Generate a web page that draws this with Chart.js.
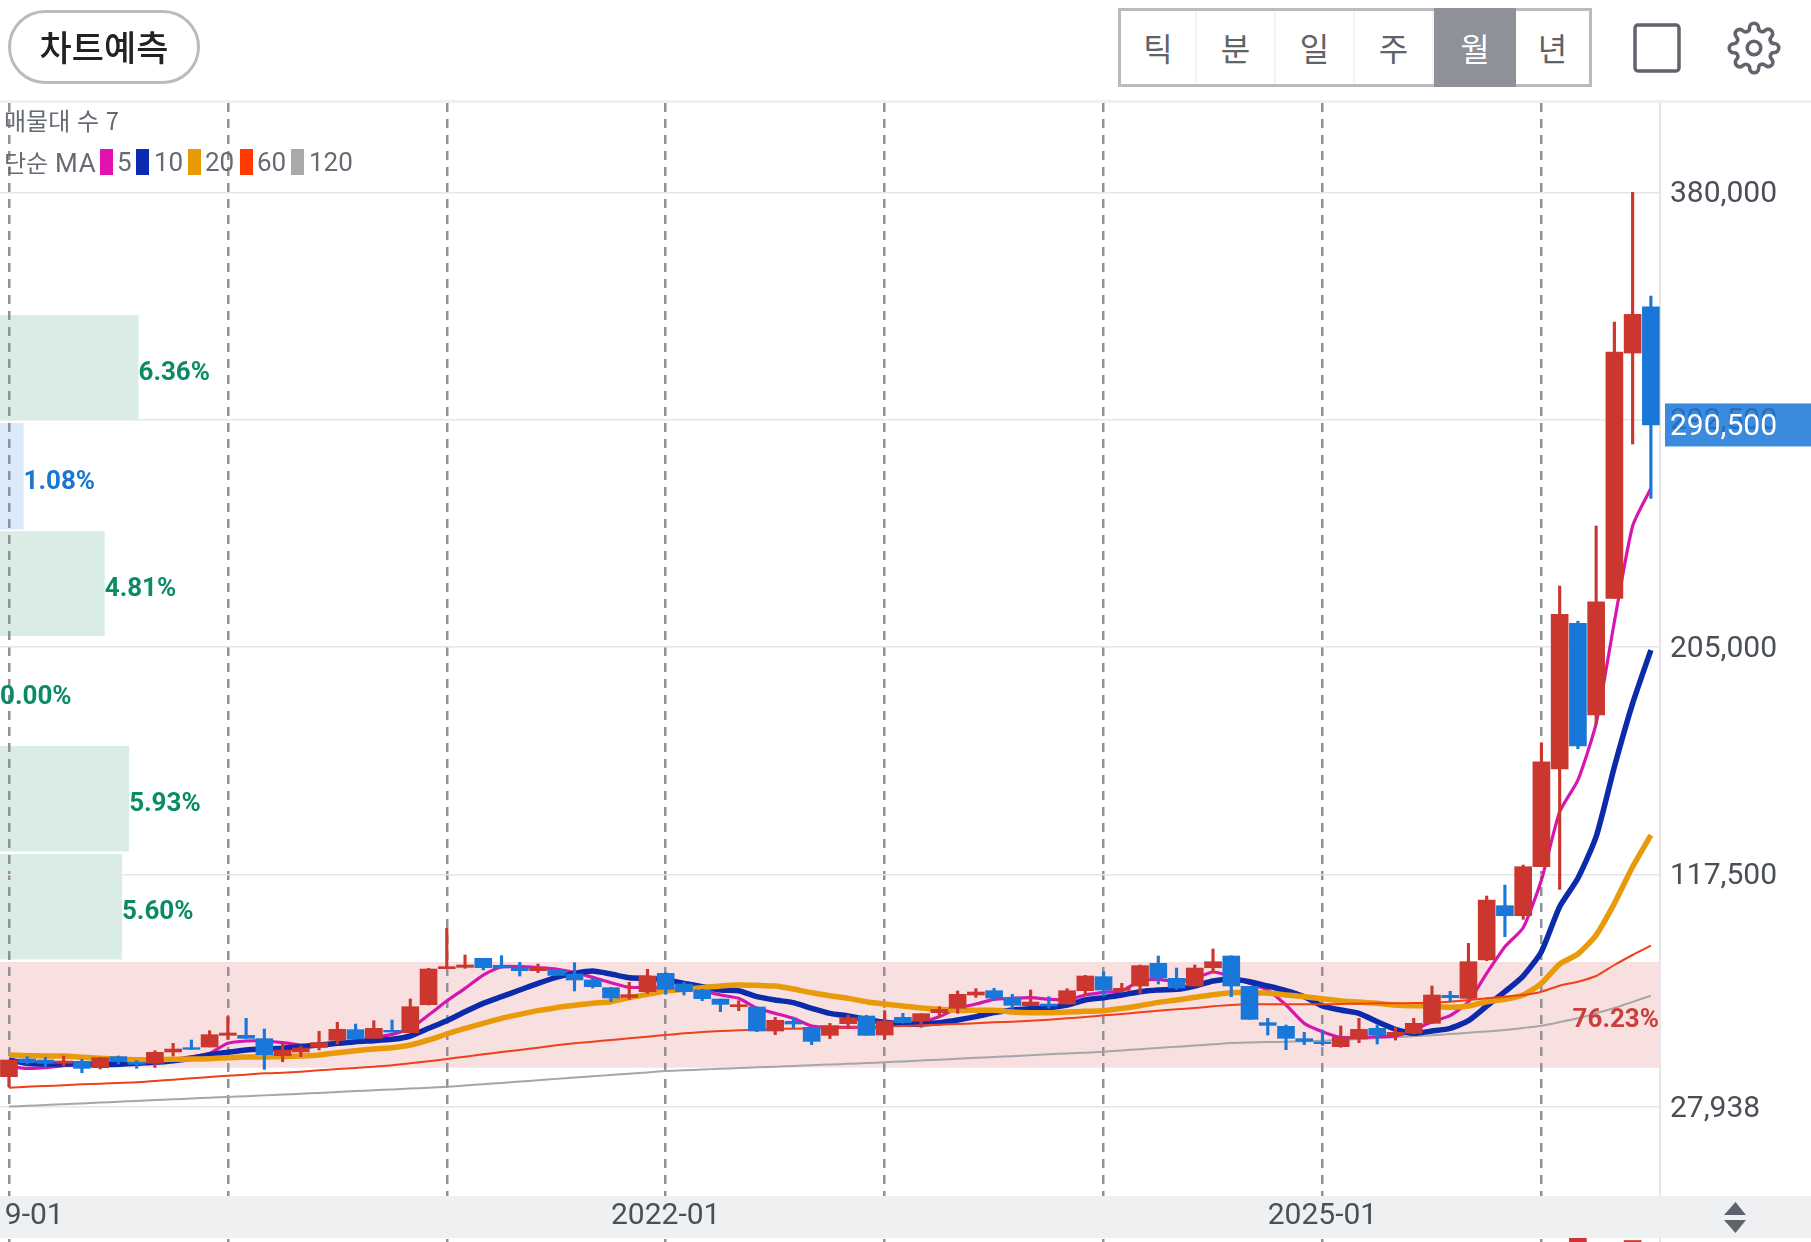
<!DOCTYPE html>
<html lang="ko">
<head>
<meta charset="utf-8">
<title>월봉 차트</title>
<script src="https://cdn.jsdelivr.net/npm/chart.js@4"></script>
<style>
  html, body { margin: 0; padding: 0; background: #fff; overflow: hidden; }
  #page { position: relative; width: 1811px; height: 1242px; font-family: "Noto Sans CJK KR", "Noto Sans", sans-serif; }
  canvas { position: absolute; left: 0; top: 0; }
  .abs { position: absolute; }
  #predict { left: 8px; top: 10px; width: 186px; height: 68px; border: 3px solid #b9bbc1; border-radius: 37px;
    text-align: center; line-height: 65px; font-size: 35px; font-weight: 500; color: #222; background: #fff; }
  #periods { left: 1118px; top: 8px; width: 468px; height: 73px; border: 3px solid #b9bbc1; display: flex; background: #fff; }
  #periods div { flex: none; width: 79px; height: 73px; text-align: center; line-height: 72px; font-size: 32px; color: #5f6368; border-right: 2px solid #f3f4f6; box-sizing: border-box; }
  #periods div:first-child { width: 76px; }
  #periods div.on { background: #8e9198; color: #fff; border-right: 0; width: 82px; height: 79px; margin-top: -3px; line-height: 78px; }
  #periods div:last-child { border-right: 0; width: 73px; }
  #topline { left: 0; top: 100px; width: 1811px; height: 3px; background: #f0f0f0; }
  .legend { font-size: 24px; color: #666a72; white-space: nowrap; line-height: 30px; }
  .legend.num { font-family: Roboto, sans-serif; font-size: 26px; }
  .swatch { width: 13px; height: 26px; top: 149px; }
</style>
</head>
<body>
<div id="page">
  <canvas id="chart" width="1811" height="1242"></canvas>
  <div id="topline" class="abs"></div>
  <div id="predict" class="abs">차트예측</div>
  <div id="periods" class="abs"><div>틱</div><div>분</div><div>일</div><div>주</div><div class="on">월</div><div>년</div></div>
  <svg class="abs" style="left:1632px;top:22px" width="52" height="52"><rect x="3" y="3" width="44" height="46" rx="3" fill="none" stroke="#60646c" stroke-width="3.5"/></svg>
  <svg class="abs" style="left:1727px;top:21px" width="54" height="54" viewBox="0 0 24 24" fill="none" stroke="#60646c" stroke-width="1.6"><circle cx="12" cy="12" r="3"/><path d="M19.4 15a1.65 1.65 0 0 0 .33 1.82l.06.06a2 2 0 0 1 0 2.83 2 2 0 0 1-2.83 0l-.06-.06a1.65 1.65 0 0 0-1.82-.33 1.65 1.65 0 0 0-1 1.51V21a2 2 0 0 1-2 2 2 2 0 0 1-2-2v-.09A1.65 1.65 0 0 0 9 19.4a1.65 1.65 0 0 0-1.82.33l-.06.06a2 2 0 0 1-2.83 0 2 2 0 0 1 0-2.83l.06-.06a1.65 1.65 0 0 0 .33-1.82 1.65 1.65 0 0 0-1.51-1H3a2 2 0 0 1-2-2 2 2 0 0 1 2-2h.09A1.65 1.65 0 0 0 4.6 9a1.65 1.65 0 0 0-.33-1.82l-.06-.06a2 2 0 0 1 0-2.83 2 2 0 0 1 2.83 0l.06.06a1.65 1.65 0 0 0 1.82.33H9a1.65 1.65 0 0 0 1-1.51V3a2 2 0 0 1 2-2 2 2 0 0 1 2 2v.09a1.65 1.65 0 0 0 1 1.51 1.65 1.65 0 0 0 1.82-.33l.06-.06a2 2 0 0 1 2.83 0 2 2 0 0 1 0 2.83l-.06.06a1.65 1.65 0 0 0-.33 1.82V9a1.65 1.65 0 0 0 1.51 1H21a2 2 0 0 1 2 2 2 2 0 0 1-2 2h-.09a1.65 1.65 0 0 0-1.51 1z"/></svg>
  <svg class="abs" style="left:1722px;top:1200px" width="28" height="36"><path d="M13.500 2 L24 15 H2 Z M2 20 H24 L13.500 33 Z" fill="#5f636b"/></svg>

  <div class="abs legend" style="left:4px;top:105px">매물대 수 7</div>
  <div class="abs legend" style="left:4px;top:147px">단순 <span style="font-family:Roboto;font-size:26px;letter-spacing:1px">MA</span></div>
  <div class="abs swatch" style="left:100px;background:#e012b0"></div><div class="abs legend num" style="left:117px;top:147px">5</div>
  <div class="abs swatch" style="left:136px;background:#0b2bb3"></div><div class="abs legend num" style="left:154px;top:147px">10</div>
  <div class="abs swatch" style="left:188px;background:#e89a05"></div><div class="abs legend num" style="left:205px;top:147px">20</div>
  <div class="abs swatch" style="left:240px;background:#ff3a00"></div><div class="abs legend num" style="left:257px;top:147px">60</div>
  <div class="abs swatch" style="left:291px;background:#a9a9a9"></div><div class="abs legend num" style="left:309px;top:147px">120</div>
</div>

<script>
// monthly candles, 2019-01 .. 2026-07, one entry per month
const opens = [
  39700,46500,46110,44830,45600,43160,47390,45210,44830,49190,
  50860,51110,55600,55600,54320,47780,49190,50980,53680,57780,
  54450,57530,56630,67400,81260,81770,85230,82540,81510,80490,
  80870,79200,76900,73950,70230,72410,79460,75360,73050,69580,
  66630,66510,57270,60990,58680,55600,60090,63040,55730,62530,
  61120,64330,65990,71120,72790,70100,67020,67660,67660,72790,
  78180,72920,74590,83310,77540,74590,81640,86130,74460,60480,
  59070,54320,53030,51240,54190,58300,55730,56370,60220,71000,
  69840,84590,105490,101640,120500,158090,214150,178870,223770,318170,335980
];
const highs = [
  46110,47390,47140,47650,46370,47010,47650,45850,49700,52520,
  53810,57400,62790,62140,58040,52270,51500,57140,60610,59960,
  61250,61500,69580,81380,96780,86520,85230,86260,83690,83050,
  80870,83570,77540,73950,76000,81000,79720,76000,73300,69580,
  68940,66510,62530,62140,58680,60220,63430,63300,65100,64070,
  63940,66630,72660,73560,73690,71380,73050,70480,73560,78690,
  80100,75610,82670,86130,81510,82670,88820,86260,74460,62140,
  59580,56760,57650,59200,62140,59580,58680,62140,74590,72530,
  91000,109220,113450,121150,168200,228500,215000,251600,330100,380000,340100
];
const lows = [
  35850,44570,43550,43800,41240,42650,44570,42900,43290,47650,
  50210,51110,54060,54450,42520,45470,47390,49960,52270,54190,
  54450,56880,56630,67270,81260,81380,80740,81510,78430,79720,
  78690,72660,73820,68560,69460,71760,71380,71120,68940,64710,
  65100,57010,55860,58420,52010,54320,58170,55600,54060,60220,
  58680,62530,64070,70230,68940,65990,67020,65990,67660,71120,
  70740,72410,71760,75360,73300,74590,79720,70480,61760,55730,
  50090,52010,51760,51000,52780,52270,53800,56120,60220,68560,
  69840,84330,93560,100250,120500,111800,165900,175400,223770,283150,262250
];
const closes = [
  46110,45080,44830,45720,42900,47010,45470,44440,49060,50340,
  50210,55860,56500,54450,48160,49960,50730,52780,57910,54190,
  58300,56880,66630,81130,82030,82670,81640,81510,80490,81380,
  78690,76900,74330,69970,71250,78430,73300,72410,69710,67530,
  67400,57270,61380,59960,53290,59320,62400,55600,61120,60480,
  63940,65610,71380,72280,69970,67150,68430,66890,72790,78430,
  73050,73690,82410,77660,73820,81510,83950,74590,61760,59450,
  54450,53290,52400,54830,57900,55860,56760,60220,71120,70100,
  83950,107680,101640,120500,160900,217600,166940,222470,318550,333060,290500
];

// moving averages
const ma5 = [
  43550,42900,43160,43930,44570,44830,45080,45210,45600,46370,
  47390,48680,52520,53420,53420,52780,51880,51630,52270,53170,
  54830,55990,58300,63430,68810,73690,78820,82030,82030,81640,
  81130,79850,77920,75870,74070,74070,73690,73690,72790,71120,
  69840,65990,64070,62140,59190,58680,58680,58680,58940,59960,
  60860,62790,65990,67660,69460,69840,70100,69460,69200,71120,
  72150,72790,76510,77150,76250,77540,79970,78180,75610,73050,
  67270,60220,57010,54830,54830,55090,55350,57650,60860,63170,
  68560,79460,89710,97020,115380,141660,153860,175670,214770,251600,266100
];
const ma10 = [
  46110,44830,44570,44570,44570,44440,44440,44830,45210,45850,
  46750,48030,49060,49960,50340,50600,51240,51880,52520,53170,
  53550,54060,55350,58300,61250,64710,67920,70480,73050,75610,
  77920,79460,80360,79200,77790,77540,76900,75610,74330,73050,
  72790,70480,69200,68170,65990,64070,63040,61760,60610,59960,
  59960,60480,61500,62790,64330,65350,65860,66250,67270,69200,
  70100,71120,72410,73050,73300,74590,76510,77150,76250,74590,
  72790,70480,66890,65350,64070,60860,57910,56370,57270,58300,
  61250,66890,72410,78430,87800,105100,116030,132040,158970,183370,203880
];
const ma20 = [
  48030,47780,47650,47650,47140,46750,46500,46240,46240,46370,
  46500,46620,47010,47270,47270,47390,47650,48030,48930,49700,
  50340,50860,51880,53810,56120,58300,60220,62140,63680,65100,
  66250,67150,67920,68560,70100,71380,72660,73300,73950,74590,
  74970,74840,74590,73430,72020,70870,69840,68560,67660,66890,
  66120,65610,65220,65220,65220,64580,64330,64330,64580,64840,
  65100,65990,67020,68300,69200,70230,71250,72020,72020,71890,
  71120,70480,69710,68810,68430,67920,67270,67020,67020,66380,
  66890,68560,69460,71120,75610,83050,86900,94210,106400,120500,132690
];
const ma60 = [
  35460,35850,36110,36360,36750,37000,37260,37520,38030,38540,
  39060,39570,40080,40470,40980,41240,41620,42130,42650,43030,
  43550,44060,44830,45600,46500,47390,48290,49190,49960,50860,
  51760,52520,53170,53810,54450,55090,55730,56370,56880,57270,
  57530,57780,58040,58170,58300,58430,58550,58810,58940,59190,
  59450,59710,59960,60220,60610,60860,61250,61630,62140,62660,
  63300,63810,64450,65100,65610,66120,66760,67270,67530,67530,
  67530,67530,67530,67660,67790,67920,67920,68050,68170,68560,
  69200,69840,70480,71120,72410,74710,76250,78430,82670,86520,90110
];
const ma120 = [
  28220,28500,28800,29100,29400,29750,30050,30350,30700,31000,
  31300,31600,31900,32200,32500,32800,33100,33450,33800,34150,
  34500,34800,35100,35400,35800,36300,36800,37300,37800,38300,
  38850,39350,39850,40350,40850,41350,41880,42150,42450,42750,
  43000,43300,43550,43850,44100,44400,44650,44950,45230,45570,
  45900,46250,46600,46950,47250,47600,47950,48300,48650,48950,
  49310,49800,50250,50750,51200,51700,52150,52650,52850,53000,
  53150,53350,53540,53850,54200,54500,54850,55250,55650,56100,
  56600,57100,57660,58450,59310,60700,62160,64100,66120,68500,70850
];

// tops of the volume panel that just peek out below the date strip
const volumeMonths = [86, 89];
const volumeValues = [4, 1.5];

// price-volume profile bands: low/high price and share
const profileLows   = [292770, 250240, 209270, 167320, 126400, 84800, 43150];
const profileHighs  = [332790, 291220, 249660, 208690, 166940, 125400, 83820];
const profileShares = [6.36, 1.08, 4.81, 0.00, 5.93, 5.60, 76.23];

const yTickValues = [380000, 292500, 205000, 117500, 27938];
const xTickValues = [0, 12, 24, 36, 48, 60, 72, 84];
const xTickLabels = ['2019-01', '', '', '2022-01', '', '', '2025-01', ''];
const lastPrice = 290500;

const RED = '#cb372e', BLUE = '#1a77da';
const STRIP = '#eef0f2';

const months = closes.map((c, i) => i);
const candleColor = months.map(i => closes[i] >= opens[i] ? RED : BLUE);

function profileColor(i) {
    if (i === 6) return '#f8e0e1';
    if (i === 1) return '#dbe9fb';
    return '#d9ede5';
}
function profileText(i) {
    if (i === 6) return '#c9403a';
    if (i === 1) return '#1976d2';
    return '#0b8a66';
}

const profilePlugin = {
    id: 'profile',
    beforeDraw(chart) {
        const { ctx, chartArea: a, scales: { y } } = chart;
        ctx.save();
        profileShares.forEach((share, i) => {
            const top = y.getPixelForValue(profileHighs[i]);
            const bot = y.getPixelForValue(profileLows[i]);
            ctx.fillStyle = profileColor(i);
            ctx.fillRect(a.left, top, (a.right - a.left) * share / 76.23, bot - top);
        });
        ctx.restore();
    },
    afterDatasetsDraw(chart) {
        // date strip sits over the grid, tick labels come after it (z: 1)
        const { ctx } = chart;
        ctx.save();
        ctx.fillStyle = STRIP;
        ctx.fillRect(0, 1196, chart.width, 42);
        ctx.restore();
    },
    afterDraw(chart) {
        const { ctx, chartArea: a, scales: { y } } = chart;
        ctx.save();
        // the first date label runs off the left side
        ctx.fillStyle = STRIP;
        ctx.fillRect(0, 1196, 5, 42);

        ctx.font = 'bold 26px Roboto';
        ctx.textBaseline = 'middle';
        profileShares.forEach((share, i) => {
            const mid = (y.getPixelForValue(profileHighs[i]) + y.getPixelForValue(profileLows[i])) / 2 + 6;
            const w = (a.right - a.left) * share / 76.23;
            ctx.fillStyle = profileText(i);
            if (i === 6) {
                ctx.textAlign = 'right';
                ctx.fillText(share.toFixed(2) + '%', a.right - 1, mid);
            } else {
                ctx.textAlign = 'left';
                ctx.fillText(share.toFixed(2) + '%', w, mid);
            }
        });

        // current price tag
        const py = y.getPixelForValue(lastPrice);
        ctx.fillStyle = 'rgba(25,118,215,0.85)';
        ctx.fillRect(a.right + 5, py - 21.500, chart.width - a.right - 5, 43);
        ctx.fillStyle = '#fff';
        ctx.font = '30px Roboto';
        ctx.textAlign = 'left';
        ctx.fillText(lastPrice.toLocaleString('en-US'), a.right + 10, py + 3);
        ctx.restore();
    }
};

function lineSet(label, data, color, width, order) {
    return {
        type: 'line', label, order,
        data: months.map(i => ({ x: i, y: data[i] })),
        borderColor: color, borderWidth: width,
        pointRadius: 0, tension: 0.2, fill: false
    };
}

new Chart(document.getElementById('chart').getContext('2d'), {
    data: {
        datasets: [
            {
                type: 'bar', label: 'body', order: 0, grouped: false, barThickness: 17,
                data: months.map(i => ({ x: i, y: [opens[i], closes[i]] })),
                backgroundColor: candleColor, borderWidth: 0
            },
            {
                type: 'bar', label: 'wick', order: 1, grouped: false, barThickness: 2.5,
                data: months.map(i => ({ x: i, y: [lows[i], highs[i]] })),
                backgroundColor: candleColor, borderWidth: 0
            },
            lineSet('60', ma60, '#f0401a', 2, 2),
            lineSet('20', ma20, '#e89a0a', 5.5, 3),
            lineSet('10', ma10, '#0b2bab', 5.5, 4),
            lineSet('5', ma5, '#d616ae', 3.2, 5),
            lineSet('120', ma120, '#a6a6a6', 2, 6),
            {
                type: 'bar', label: 'volume', order: 7, grouped: false, barThickness: 17, yAxisID: 'yVol',
                data: volumeMonths.map((m, i) => ({ x: m, y: volumeValues[i] })),
                backgroundColor: RED, borderWidth: 0
            }
        ]
    },
    options: {
        responsive: false,
        animation: false,
        devicePixelRatio: 1,
        layout: { padding: { top: 103, left: 0, right: 0, bottom: 0 } },
        plugins: { legend: { display: false }, tooltip: { enabled: false } },
        scales: {
            x: {
                type: 'linear', position: 'bottom', offset: false,
                min: -0.49, max: 90.5,
                grid: { color: '#8f9298', lineWidth: 2.5, drawTicks: false, offset: false },
                border: { display: false, dash: [9, 7] },
                afterBuildTicks(s) { s.ticks = xTickValues.map(v => ({ value: v })); },
                afterFit(s) { s.height = 0; s.paddingLeft = 0; s.paddingRight = 0; },
                ticks: {
                    z: 1, mirror: true, padding: 8, autoSkip: false, maxRotation: 0,
                    color: '#4a4e57', font: { family: 'Roboto', size: 30 },
                    callback: v => xTickLabels[xTickValues.indexOf(v)]
                }
            },
            y: {
                type: 'linear', position: 'right',
                min: -23926, max: 414400,
                grid: { color: '#e6e6e8', lineWidth: 1.5, drawTicks: false },
                border: { color: '#e6e6e8', width: 2 },
                afterBuildTicks(s) { s.ticks = yTickValues.map(v => ({ value: v })); },
                afterFit(s) { s.width = 151; s.paddingTop = 0; s.paddingBottom = 0; },
                ticks: {
                    padding: 10, autoSkip: false, labelOffset: 2,
                    color: '#4a4e57', font: { family: 'Roboto', size: 30 },
                    callback: v => v.toLocaleString('en-US')
                }
            },
            yVol: { display: false, min: 0, max: 1139 }
        }
    },
    plugins: [profilePlugin]
});
</script>
</body>
</html>
